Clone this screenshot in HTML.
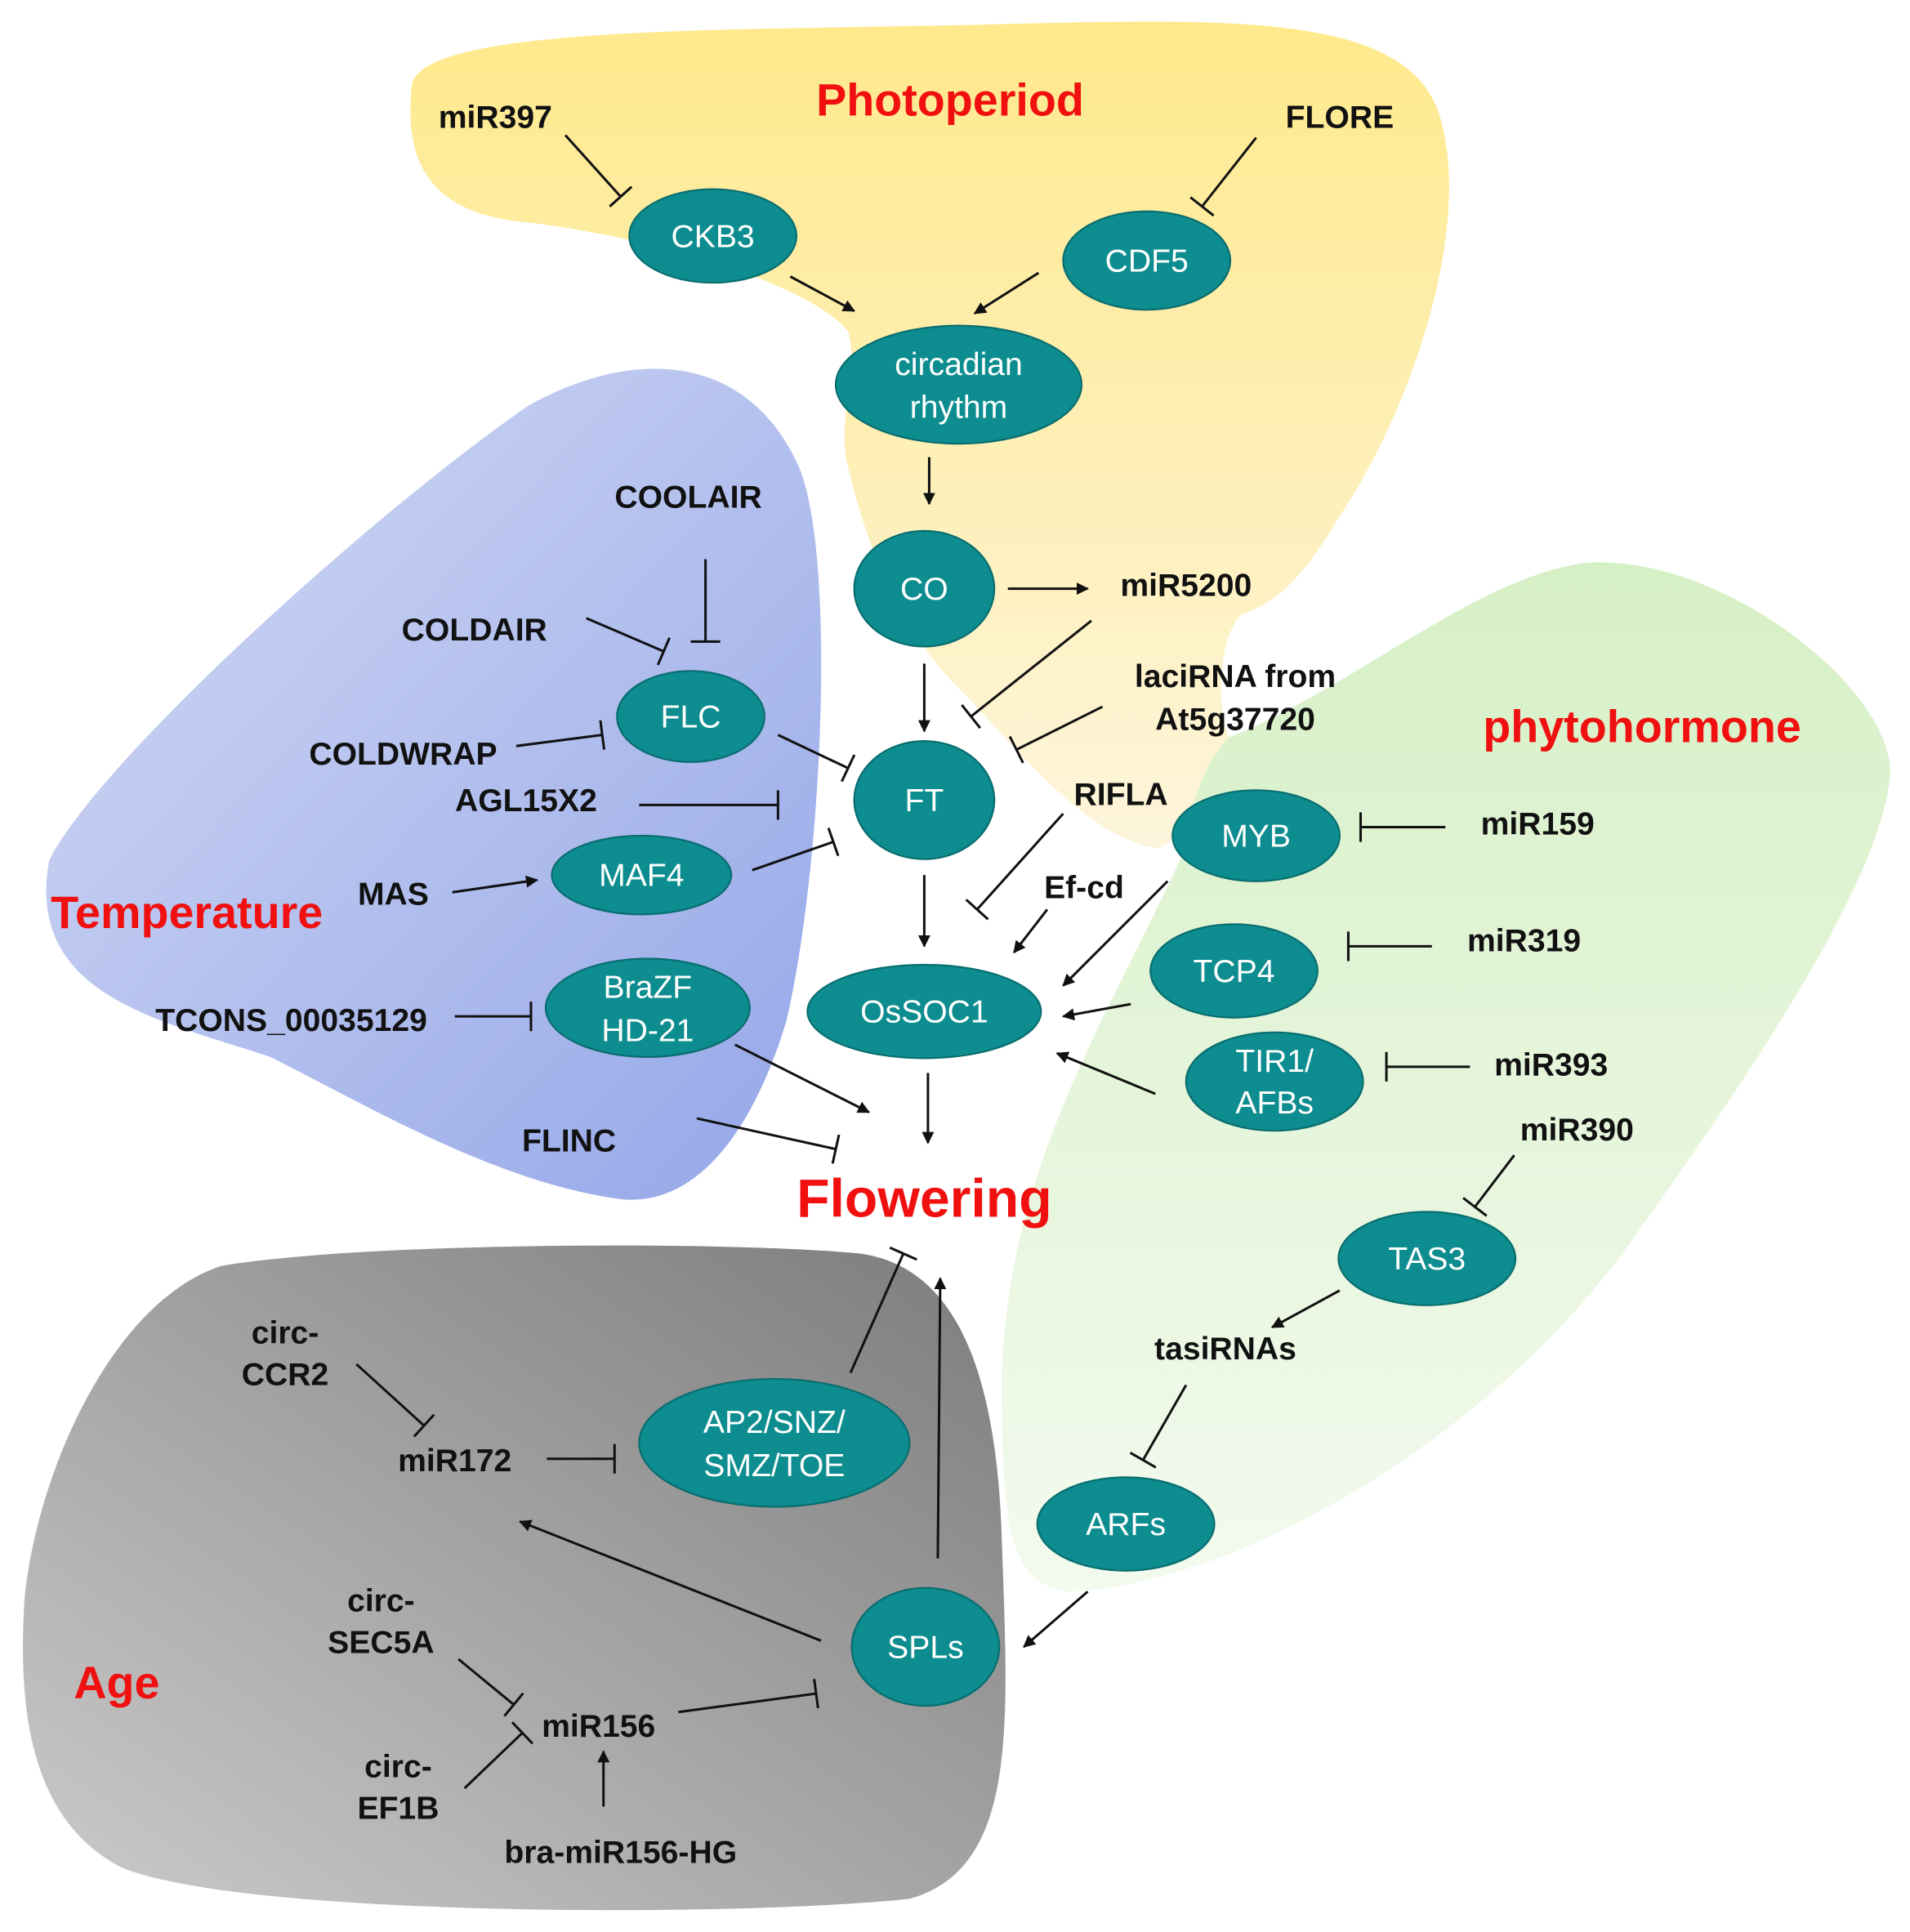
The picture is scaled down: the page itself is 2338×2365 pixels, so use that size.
<!DOCTYPE html>
<html><head><meta charset="utf-8"><style>
html,body{margin:0;padding:0;background:#fff}
svg{display:block}
.l{font-family:"Liberation Sans",sans-serif;font-weight:bold;font-size:26px;fill:#111;text-anchor:middle}
.r{font-family:"Liberation Sans",sans-serif;font-weight:bold;font-size:37px;fill:#f01010;text-anchor:middle}
.n{font-family:"Liberation Sans",sans-serif;font-size:26px;fill:#fff;text-anchor:middle}
ellipse{fill:#0d8d8f;stroke:#0a6e70;stroke-width:1.5}
</style></head><body>
<svg id="s" width="2338" height="2365" viewBox="0 0 1554 1572" preserveAspectRatio="none" xmlns="http://www.w3.org/2000/svg">
<defs>
<linearGradient id="gy" x1="0" y1="0" x2="0" y2="1"><stop offset="0" stop-color="#ffe98c"/><stop offset="1" stop-color="#fdf5dc"/></linearGradient>
<linearGradient id="gb" x1="0" y1="0" x2="1" y2="1"><stop offset="0" stop-color="#d4dcf4"/><stop offset="1" stop-color="#94a6e8"/></linearGradient>
<linearGradient id="gg" x1="0" y1="0" x2="0" y2="1"><stop offset="0" stop-color="#d6f0c6"/><stop offset="1" stop-color="#f3faee"/></linearGradient>
<linearGradient id="gr" x1="1" y1="0" x2="0" y2="1"><stop offset="0" stop-color="#7c7c7c"/><stop offset="1" stop-color="#cbcbcb"/></linearGradient>
<marker id="a" viewBox="0 0 10 10" refX="9" refY="5" markerWidth="5" markerHeight="5" orient="auto"><path d="M0,0L10,5L0,10z" fill="#111"/></marker>
</defs>
<path fill="url(#gy)" d="M335,70 C340,20 600,25 800,20 C1000,15 1140,10 1170,90 C1200,180 1150,330 1090,420 C1060,470 1040,490 1010,500 C990,520 990,580 1000,600 C980,640 960,690 940,690 C880,680 820,600 780,560 C720,500 700,420 690,380 C680,340 700,300 690,270 C660,230 520,190 420,180 C340,170 330,120 335,70 Z"/>
<path fill="url(#gb)" d="M40,700 C80,620 300,420 430,330 C520,280 610,290 650,380 C680,450 670,700 640,830 C610,930 560,985 500,975 C400,960 300,900 220,860 C130,830 20,810 40,700 Z"/>
<path fill="url(#gg)" d="M1000,600 C1100,560 1200,470 1290,458 C1400,450 1540,560 1538,630 C1530,720 1420,880 1320,1020 C1200,1180 1000,1290 870,1295 C820,1290 815,1240 815,1120 C820,950 900,830 960,700 C970,650 980,620 1000,600 Z"/>
<path fill="url(#gr)" d="M20,1300 C30,1200 90,1060 180,1030 C300,1010 600,1010 700,1020 C770,1030 810,1100 815,1250 C820,1400 830,1520 740,1545 C600,1560 200,1560 100,1520 C20,1480 15,1380 20,1300 Z"/>
<g id="ln" stroke="#111" stroke-width="2" fill="none"></g>
<ellipse cx="580" cy="192" rx="68" ry="38"/><text class="n" x="580" y="201">CKB3</text>
<ellipse cx="933" cy="212" rx="68" ry="40"/><text class="n" x="933" y="221">CDF5</text>
<ellipse cx="780" cy="313" rx="100" ry="48"/><text class="n" x="780" y="305">circadian</text><text class="n" x="780" y="340">rhythm</text>
<ellipse cx="752" cy="479" rx="57" ry="47"/><text class="n" x="752" y="488">CO</text>
<ellipse cx="752" cy="651" rx="57" ry="48"/><text class="n" x="752" y="660">FT</text>
<ellipse cx="562" cy="583" rx="60" ry="37"/><text class="n" x="562" y="592">FLC</text>
<ellipse cx="522" cy="712" rx="73" ry="32"/><text class="n" x="522" y="721">MAF4</text>
<ellipse cx="527" cy="820" rx="83" ry="40"/><text class="n" x="527" y="812">BraZF</text><text class="n" x="527" y="847">HD-21</text>
<ellipse cx="752" cy="823" rx="95" ry="38"/><text class="n" x="752" y="832">OsSOC1</text>
<ellipse cx="1022" cy="680" rx="68" ry="37"/><text class="n" x="1022" y="689">MYB</text>
<ellipse cx="1004" cy="790" rx="68" ry="38"/><text class="n" x="1004" y="799">TCP4</text>
<ellipse cx="1037" cy="880" rx="72" ry="40"/><text class="n" x="1037" y="872">TIR1/</text><text class="n" x="1037" y="906">AFBs</text>
<ellipse cx="1161" cy="1024" rx="72" ry="38"/><text class="n" x="1161" y="1033">TAS3</text>
<ellipse cx="916" cy="1240" rx="72" ry="38"/><text class="n" x="916" y="1249">ARFs</text>
<ellipse cx="630" cy="1174" rx="110" ry="52"/><text class="n" x="630" y="1166">AP2/SNZ/</text><text class="n" x="630" y="1201">SMZ/TOE</text>
<ellipse cx="753" cy="1340" rx="60" ry="48"/><text class="n" x="753" y="1349">SPLs</text>
<text class="r" x="773" y="94">Photoperiod</text>
<text class="r" x="152" y="755">Temperature</text>
<text class="r" x="1336" y="604">phytohormone</text>
<text class="r" x="95" y="1382">Age</text>
<text class="r" x="752" y="990" style="font-size:44px">Flowering</text>
<g class="l">
<text class="l" x="403" y="104">miR397</text>
<text class="l" x="1090" y="104">FLORE</text>
<text class="l" x="965" y="485">miR5200</text>
<text class="l" x="1005" y="559">laciRNA from</text>
<text class="l" x="1005" y="594">At5g37720</text>
<text class="l" x="912" y="655">RIFLA</text>
<text class="l" x="882" y="731">Ef-cd</text>
<text class="l" x="560" y="413">COOLAIR</text>
<text class="l" x="386" y="521">COLDAIR</text>
<text class="l" x="328" y="622">COLDWRAP</text>
<text class="l" x="428" y="660">AGL15X2</text>
<text class="l" x="320" y="736">MAS</text>
<text class="l" x="237" y="839">TCONS_00035129</text>
<text class="l" x="463" y="937">FLINC</text>
<text class="l" x="1251" y="679">miR159</text>
<text class="l" x="1240" y="774">miR319</text>
<text class="l" x="1262" y="875">miR393</text>
<text class="l" x="1283" y="928">miR390</text>
<text class="l" x="997" y="1106">tasiRNAs</text>
<text class="l" x="232" y="1093">circ-</text><text class="l" x="232" y="1127">CCR2</text>
<text class="l" x="370" y="1197">miR172</text>
<text class="l" x="310" y="1311">circ-</text><text class="l" x="310" y="1345">SEC5A</text>
<text class="l" x="487" y="1413">miR156</text>
<text class="l" x="324" y="1446">circ-</text><text class="l" x="324" y="1480">EF1B</text>
<text class="l" x="505" y="1516">bra-miR156-HG</text>
</g>
</svg>
<script>
var g=document.getElementById('ln'),NS='http://www.w3.org/2000/svg';
function L(x1,y1,x2,y2,arrow){var l=document.createElementNS(NS,'line');l.setAttribute('x1',x1);l.setAttribute('y1',y1);l.setAttribute('x2',x2);l.setAttribute('y2',y2);if(arrow)l.setAttribute('marker-end','url(#a)');g.appendChild(l);}
function A(x1,y1,x2,y2){L(x1,y1,x2,y2,1);}
function I(x1,y1,x2,y2){L(x1,y1,x2,y2);var dx=x2-x1,dy=y2-y1,d=Math.hypot(dx,dy),px=-dy/d*12,py=dx/d*12;L(x2-px,y2-py,x2+px,y2+py);}
I(460,110,505,160);I(1022,112,978,168);A(643,225,695,253);A(845,222,793,255);A(756,372,756,410);
A(820,479,885,479);A(752,540,752,595);I(888,505,790,583);I(897,575,827,610);I(865,662,795,740);
A(852,740,825,775);A(752,712,752,770);I(574,455,574,522);I(477,503,540,530);I(420,607,490,598);
I(633,598,690,625);I(520,655,633,655);I(612,708,678,685);A(368,726,437,716);I(370,827,432,827);
A(598,850,707,905);I(567,910,680,935);A(755,873,755,930);I(1176,673,1107,673);A(950,717,865,802);
I(1165,770,1097,770);A(920,817,865,827);I(1196,868,1128,868);A(940,890,860,857);I(1232,940,1200,982);
A(1090,1050,1035,1080);I(965,1127,930,1188);A(885,1295,833,1340);I(290,1110,345,1160);I(445,1187,500,1187);
I(692,1117,735,1020);A(763,1268,765,1040);A(668,1335,423,1238);I(373,1350,418,1387);I(552,1393,664,1378);
I(378,1455,425,1410);A(491,1470,491,1425);
</script>
</body></html>
